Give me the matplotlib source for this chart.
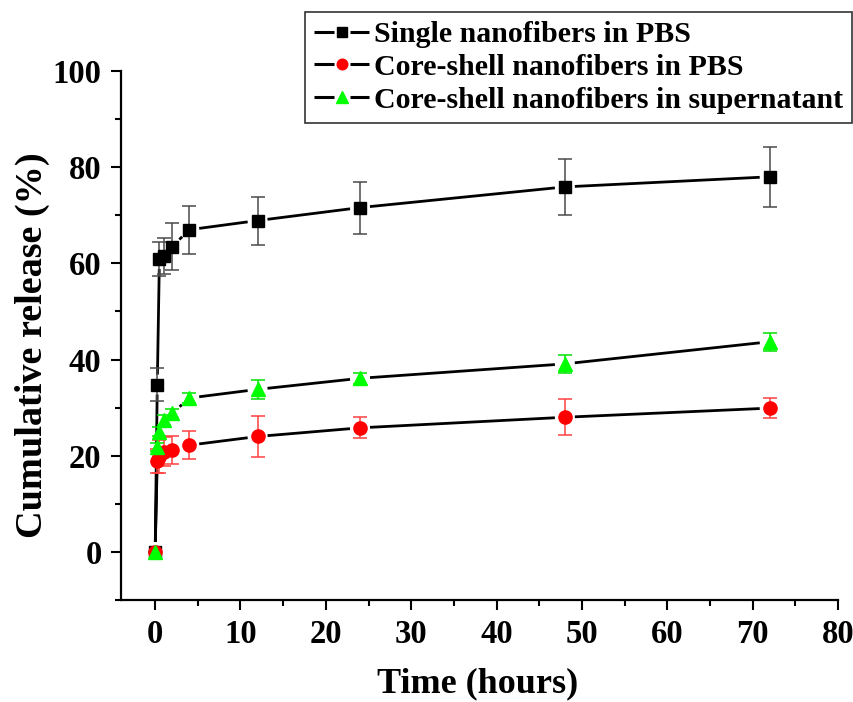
import matplotlib
matplotlib.use("Agg")
import matplotlib.pyplot as plt
import numpy as np
from matplotlib.lines import Line2D
from matplotlib.legend_handler import HandlerBase
from matplotlib.ticker import MultipleLocator

plt.rcParams['font.family'] = ['Liberation Serif', 'DejaVu Serif']
plt.rcParams['font.weight'] = 'bold'

# Sampling times (hours)
time_h = [0, 0.25, 0.5, 1, 2, 4, 12, 24, 48, 72]

# Cumulative release (%) and standard deviations
single_pbs = [0, 34.8, 60.9, 61.5, 63.5, 67.0, 68.9, 71.6, 75.9, 78.0]
single_pbs_err = [0, 3.4, 3.5, 3.8, 4.8, 5.0, 5.0, 5.4, 5.8, 6.3]

core_pbs = [0, 19.0, 19.8, 20.8, 21.2, 22.2, 24.0, 25.8, 28.0, 29.9]
core_pbs_err = [0, 2.5, 3.4, 3.0, 2.9, 2.9, 4.3, 2.2, 3.7, 2.1]

core_super = [0, 21.8, 25.0, 27.4, 28.8, 32.0, 33.8, 36.1, 39.1, 43.7]
core_super_err = [0, 0.9, 1.0, 1.0, 1.0, 1.0, 2.0, 1.2, 1.8, 1.9]

series = [
    ("Single nanofibers in PBS", single_pbs, single_pbs_err, 's', 'black', '#4a4a4a', 8.5),
    ("Core-shell nanofibers in PBS", core_pbs, core_pbs_err, 'o', '#FF0000', '#FF4040', 9.5),
    ("Core-shell nanofibers in supernatant", core_super, core_super_err, '^', '#00FF00', '#00E000', 10.5),
]

fig = plt.figure(figsize=(8.54, 7.02), dpi=100)
ax = fig.add_axes([121 / 854, 1 - 600 / 702, (838 - 121) / 854, (600 - 71) / 702])
ax.set_xlim(-4, 80)
ax.set_ylim(-10, 100)

GAP_PX = 10.0  # blank space between connecting line and marker centre


def draw_gapped_line(ax, x, y, color='black', lw=2.0):
    trans = ax.transData
    inv = trans.inverted()
    pts = trans.transform(np.column_stack([x, y]))
    for p0, p1 in zip(pts[:-1], pts[1:]):
        d = p1 - p0
        dist = np.hypot(*d)
        if dist <= 2 * GAP_PX + 1:
            continue
        u = d / dist
        a = inv.transform(p0 + u * GAP_PX)
        b = inv.transform(p1 - u * GAP_PX)
        ax.plot([a[0], b[0]], [a[1], b[1]], color=color, lw=lw,
                solid_capstyle='butt', zorder=2)


class GappedLineHandler(HandlerBase):
    """Legend key: line - marker - line, with small gaps around the marker."""

    def create_artists(self, legend, orig_handle, xdescent, ydescent,
                       width, height, fontsize, trans):
        y = height / 2 - ydescent
        x0, x1 = -xdescent, width - xdescent
        xm = (x0 + x1) / 2
        gap = 0.14 * width
        left = Line2D([x0, xm - gap], [y, y], color='black', lw=2.2,
                      solid_capstyle='butt')
        right = Line2D([xm + gap, x1], [y, y], color='black', lw=2.2,
                       solid_capstyle='butt')
        mark = Line2D([xm], [y], linestyle='none',
                      marker=orig_handle.get_marker(),
                      markersize=orig_handle.get_markersize(),
                      markerfacecolor=orig_handle.get_markerfacecolor(),
                      markeredgecolor=orig_handle.get_markeredgecolor())
        arts = [left, right, mark]
        for a in arts:
            a.set_transform(trans)
        return arts


handles = []
for label, vals, errs, mk, col, ecol, ms in series:
    draw_gapped_line(ax, time_h, vals)
    ax.errorbar(time_h, vals, yerr=errs, fmt='none', ecolor=ecol,
                elinewidth=1.1, capsize=5, capthick=1.1, zorder=3)
    ax.plot(time_h, vals, linestyle='none', marker=mk, markersize=ms,
            markerfacecolor=col, markeredgecolor=col, zorder=4)
    handles.append(Line2D([], [], color='black', lw=2.0, marker=mk,
                          markersize=ms * 0.8, markerfacecolor=col,
                          markeredgecolor=col, label=label))

for side in ('top', 'right'):
    ax.spines[side].set_visible(False)
for side in ('left', 'bottom'):
    ax.spines[side].set_linewidth(1.6)

ax.xaxis.set_major_locator(MultipleLocator(10))
ax.xaxis.set_minor_locator(MultipleLocator(5))
ax.yaxis.set_minor_locator(MultipleLocator(10))
ax.set_yticks([0, 20, 40, 60, 80, 100])
ax.tick_params(which='major', direction='out', length=7, width=1.5,
               labelsize=23.5, pad=7)
ax.tick_params(which='minor', direction='out', length=4, width=1.5)
for lab in ax.get_xticklabels() + ax.get_yticklabels():
    lab.set_fontweight('bold')

ax.set_xlabel("Time (hours)", fontsize=26, fontweight='bold')
ax.set_ylabel("Cumulative release (%)", fontsize=27.5, fontweight='bold')
ax.xaxis.label.set_verticalalignment('center')
ax.yaxis.label.set_verticalalignment('center')
ax.yaxis.label.set_horizontalalignment('center')
ax.xaxis.set_label_coords((478 - 121) / 717, -(684 - 600) / 529)
ax.yaxis.set_label_coords(-(121 - 32) / 717, (600 - 345) / 529)

leg = fig.legend(handles=handles, loc='upper right',
                 bbox_to_anchor=(852 / 854, 1 - 12 / 702),
                 prop={'size': 21.5, 'weight': 'bold'},
                 handler_map={Line2D: GappedLineHandler()},
                 frameon=True, fancybox=False, borderaxespad=0,
                 handlelength=1.85, handletextpad=0.15, labelspacing=0.2,
                 borderpad=0.3)
leg.get_frame().set_edgecolor('black')
leg.get_frame().set_linewidth(1.2)

fig.savefig("out.png", dpi=100)
